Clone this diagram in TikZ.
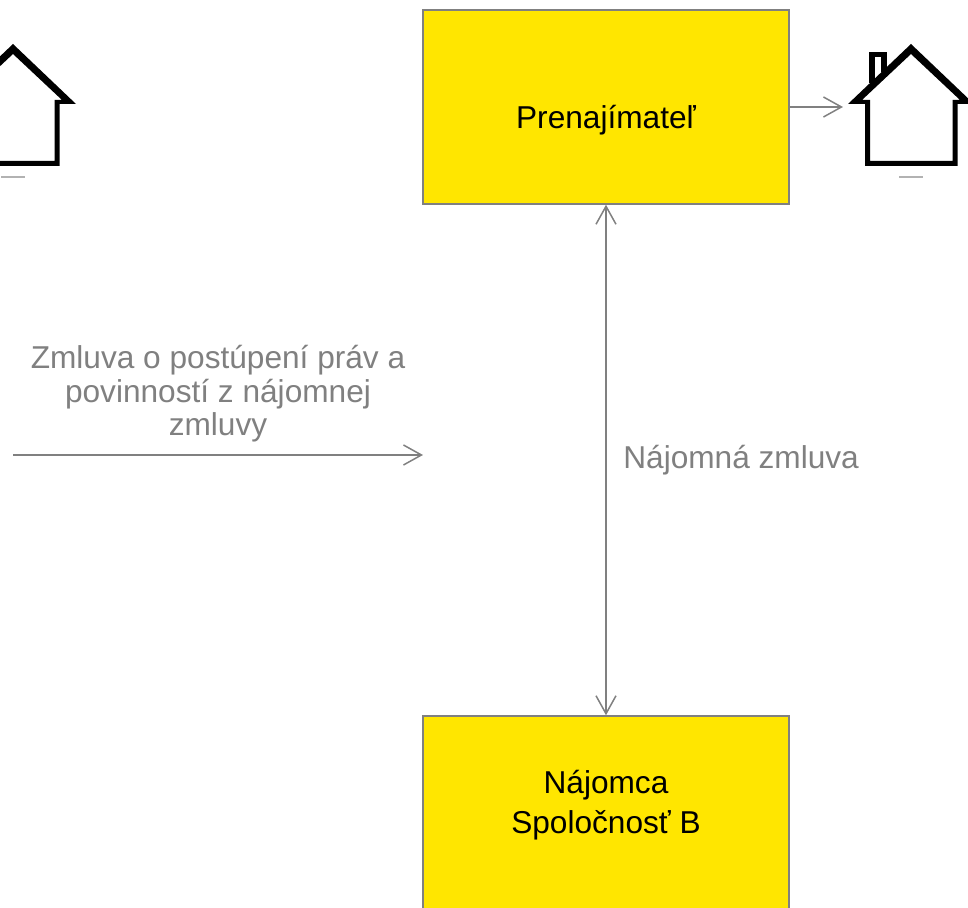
\documentclass[tikz,border=0pt]{standalone}
\usepackage{fontspec}
\setmainfont{Liberation Sans}
\usetikzlibrary{arrows.meta}
\definecolor{boxyellow}{HTML}{FFE600}
\definecolor{linegray}{HTML}{808080}
\tikzset{
  box/.style={draw=linegray, line width=0.03cm, fill=boxyellow, minimum width=7.32cm, minimum height=3.88cm, inner sep=0pt},
  boxtext/.style={align=center, font=\fontsize{18}{23}\selectfont, text=black},
  graytext/.style={align=center, font=\fontsize{18}{19}\selectfont, text=linegray},
  link/.style={draw=linegray, line width=0.03cm, >={Straight Barb[length=0.36cm,width=0.4cm,line width=0.03cm]}},
  house/.pic={
    \fill[even odd rule] (-63,-1) -- (-46,-1) -- (-46,61) -- (46.5,61) -- (46.5,-1) -- (63,-1) -- (0,-61) -- cycle
      (-41,56) -- (-41,-5) -- (-49,-5) -- (0,-51) -- (49,-5) -- (41.5,-5) -- (41.5,56) -- cycle;
    \draw[line width=0.11cm] (-39,-22) -- (-39,-50.5) -- (-27,-50.5) -- (-27,-33);
    \fill[black!30] (-12,71.5) rectangle (12,73);
  }
}
\begin{document}
\begin{tikzpicture}[x=0.02cm, y=-0.02cm]
  \useasboundingbox (0,0) rectangle (968,908);
  % boxes
  \node[box] (landlord) at (606,107) {};
  \node[box] (tenant) at (606,813) {};
  \node[boxtext] (landlordtext) at (606,120) {Prenajímateľ};
  \node[boxtext] (tenanttext) at (606,805) {Nájomca\\Spoločnosť B};
  % houses
  \foreach \x/\name in {911/righthouse, 13/lefthouse}
    \pic (\name) at (\x,105) {house};
  % arrows
  \coordinate (assignstart) at (13,455);
  \coordinate (assignend) at (423,455);
  \coordinate (househead) at (843,107);
  \draw[link, <->] (landlord.south) -- (tenant.north);
  \draw[link, ->] (landlord.east) -- (househead);
  \draw[link, ->] (assignstart) -- (assignend);
  % text
  \node[graytext] (assigntext) at (218,394) {Zmluva o postúpení práv a\\povinností z nájomnej\\zmluvy};
  \node[graytext, anchor=west, inner sep=0pt] (leasetext) at (623,460) {Nájomná zmluva};
\end{tikzpicture}
\end{document}
